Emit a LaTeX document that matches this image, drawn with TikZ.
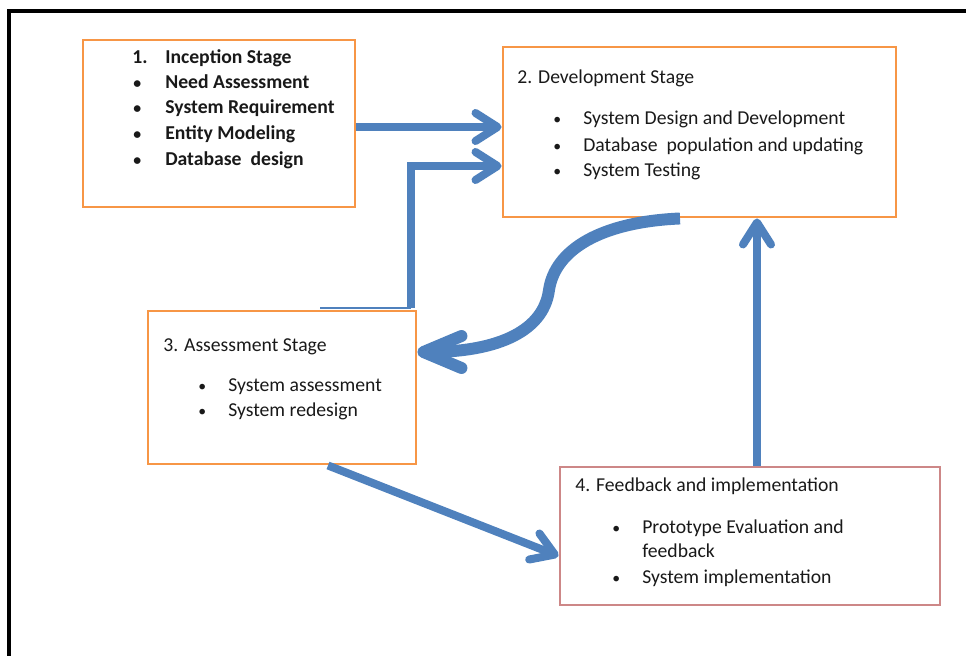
\documentclass[tikz,border=0pt]{standalone}
\usepackage{fontspec}
\setmainfont{Carlito}
\usetikzlibrary{arrows.meta,fit,calc}

\definecolor{boxorange}{HTML}{F79646}
\definecolor{boxrose}{RGB}{205,135,135}
\definecolor{flowblue}{HTML}{4F81BD}
\definecolor{ink}{RGB}{25,25,25}

\newcommand{\stagefont}{\fontsize{14}{17}\selectfont}
\newcommand{\blt}{\scalebox{0.8}{\textbullet}}

\tikzset{
  stagebox/.style={draw=boxorange, line width=2.1pt, inner sep=0pt},
  txt/.style={anchor=west, inner sep=0pt, text=ink, font=\stagefont,
    text height=0.9em, text depth=0.25em, yshift=-0.05cm},
  btxt/.style={txt, font=\stagefont\bfseries},
  flow/.style={draw=flowblue, line width=5.7pt,
    -{Straight Barb[length=0.55cm,width=0.7cm,round]}},
}

\begin{document}
\begin{tikzpicture}[x=0.025cm,y=-0.025cm]
    \useasboundingbox (0,0) rectangle (966,656);
    
    % frame
    \draw[line width=3.5pt] (9,656) -- (9,11) -- (966,11);
    
    % stage boxes
    \node[stagebox, fit={(83,40) (355,207)}] (incep) {};
    \node[stagebox, fit={(503,47) (896,217)}] (dev) {};
    \node[stagebox, fit={(148,311) (416,464)}] (assess) {};
    \node[stagebox, draw=boxrose, fit={(560,467) (940,605)}] (feed) {};
    
    % 1. inception
    \node[btxt] (incep-n) at (132,57) {1.};
    \node[btxt] (incep-t) at (165,57) {Inception Stage};
    \foreach \y/\s [count=\i] in {82/Need Assessment,107/System Requirement,
        133/Entity Modeling,159/Database~ design}
    {
        \node[btxt] (incep-b\i) at (133,\y) {\blt};
        \node[btxt] (incep-l\i) at (165,\y) {\s};
    }
    
    % 2. development
    \node[txt] (dev-t) at (517,77) {2. Development Stage};
    \foreach \y/\s [count=\i] in {118/System Design and Development,
        145/Database~ population and updating,170/System Testing}
    {
        \node[txt] (dev-b\i) at (553,\y) {\blt};
        \node[txt] (dev-l\i) at (583,\y) {\s};
    }
    
    % 3. assessment
    \node[txt] (assess-t) at (163,345) {3. Assessment Stage};
    \foreach \y/\s [count=\i] in {385/System assessment,410/System redesign}
    {
        \node[txt] (assess-b\i) at (198,\y) {\blt};
        \node[txt] (assess-l\i) at (228,\y) {\s};
    }
    
    % 4. feedback
    \node[txt] (feed-t) at (575,485) {4. Feedback and implementation};
    \node[txt] (feed-b1) at (612,527) {\blt};
    \node[txt] (feed-l1) at (642,527) {Prototype Evaluation and};
    \node[txt] (feed-l1b) at (642,551) {feedback};
    \node[txt] (feed-b2) at (612,577) {\blt};
    \node[txt] (feed-l2) at (642,577) {System implementation};
    
    % arrows
    \draw[flow] (incep.east |- 0,127) -- (dev.west |- 0,127);
    
    \coordinate (tail) at (320,308);
    \coordinate (bend) at (411,308);
    \draw[flowblue, line width=2pt] (tail) -- (bend);
    \draw[flow] (bend) -- (411,166) -- (dev.west |- 0,166);
    
    \draw[flow, line width=8.5pt, -{Straight Barb[length=0.95cm,width=0.8cm,round]}]
        (dev.south -| 680,0) .. controls (600,222) and (555,250) .. (549,290)
        .. controls (543,335) and (490,352) .. (assess.east |- 0,352);
    
    \draw[flow] (assess.south -| 328,0) -- (feed.west |- 0,556);
    \draw[flow] (feed.north -| 757,0) -- (dev.south -| 757,0);
    
\end{tikzpicture}
\end{document}
